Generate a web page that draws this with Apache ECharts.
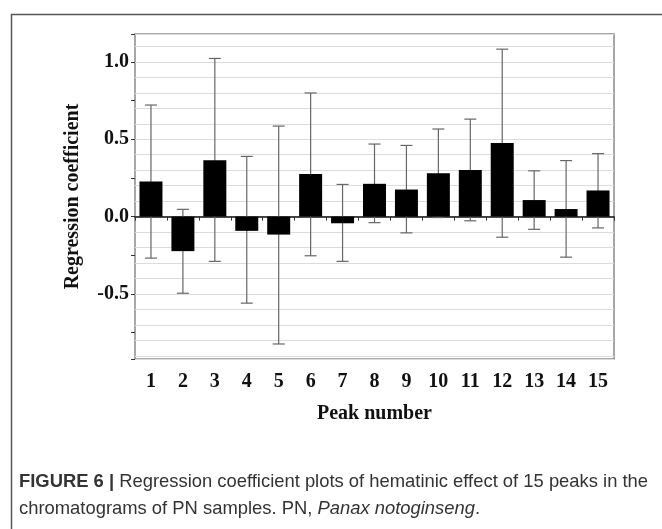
<!DOCTYPE html>
<html>
<head>
<meta charset="utf-8">
<script src="https://cdn.jsdelivr.net/npm/echarts@6/dist/echarts.min.js"></script>
<style>
  html, body { margin: 0; padding: 0; background: #fff; }
  #chart { width: 662px; height: 529px; }
</style>
</head>
<body>
<div id="chart"></div>
<script>
// peak numbers on the x axis
const peaks = ['1', '2', '3', '4', '5', '6', '7', '8', '9', '10', '11', '12', '13', '14', '15']
// regression coefficient of each peak
const coef = [0.227, -0.223, 0.364, -0.092, -0.116, 0.276, -0.043, 0.212, 0.175, 0.280, 0.302, 0.476, 0.107, 0.049, 0.169]
// error bar ends
const errLow = [-0.268, -0.495, -0.289, -0.559, -0.823, -0.253, -0.289, -0.039, -0.105, -0.006, -0.027, -0.133, -0.082, -0.262, -0.073]
const errHigh = [0.721, 0.047, 1.022, 0.389, 0.585, 0.799, 0.208, 0.469, 0.460, 0.566, 0.630, 1.082, 0.296, 0.362, 0.407]

const yMin = -0.92
const yMax = 1.18

const serif = 'Liberation Serif'
const sans = 'Liberation Sans'

const errData = peaks.map((p, i) => [i, errLow[i], errHigh[i]])

const dom = echarts.init(document.getElementById('chart'))
const option = {
  backgroundColor: '#fff',
  animation: false,
  grid: {
    left: 135,
    right: 48,
    top: 34,
    bottom: 170,
    show: true,
    borderColor: '#8a8a8a',
    borderWidth: 1.5,
    backgroundColor: 'transparent'
  },
  xAxis: [
    {
      type: 'category',
      data: peaks,
      axisLine: { onZero: true, lineStyle: { color: '#111', width: 1.5 } },
      axisTick: { show: true, length: 4, lineStyle: { color: '#333' } },
      axisLabel: { show: false },
      splitLine: { show: false }
    },
    {
      type: 'category',
      data: peaks,
      position: 'bottom',
      axisLine: { show: false, onZero: false },
      axisTick: { show: false },
      axisLabel: {
        margin: 13,
        fontFamily: serif,
        fontWeight: 'bold',
        fontSize: 20,
        color: '#111'
      },
      name: 'Peak number',
      nameLocation: 'middle',
      nameGap: 45,
      nameTextStyle: {
        fontFamily: serif,
        fontWeight: 'bold',
        fontSize: 20,
        color: '#111'
      }
    }
  ],
  yAxis: [
    {
      type: 'value',
      min: yMin,
      max: yMax,
      splitNumber: 4,
      axisLine: { show: false },
      axisTick: { show: false },
      axisLabel: {
        margin: 6,
        fontFamily: serif,
        fontWeight: 'bold',
        fontSize: 20,
        color: '#111',
        formatter: function (v) {
          const h = v * 2
          return Math.abs(h - Math.round(h)) < 1e-6 ? v.toFixed(1) : ''
        }
      },
      splitLine: { show: true, lineStyle: { color: '#dcdcdc', width: 1 } },
      minorTick: { show: false, splitNumber: 5 },
      minorSplitLine: { show: true, lineStyle: { color: '#dcdcdc', width: 1 } },
      name: 'Regression coefficient',
      nameLocation: 'middle',
      nameGap: 52,
      nameTextStyle: {
        fontFamily: serif,
        fontWeight: 'bold',
        fontSize: 20,
        color: '#111'
      }
    },
    {
      type: 'value',
      min: yMin,
      max: yMax,
      splitNumber: 4,
      position: 'left',
      axisLine: { show: false },
      axisLabel: { show: false },
      splitLine: { show: false },
      axisTick: { show: true, length: 4, lineStyle: { color: '#333' } },
      minorTick: { show: true, splitNumber: 2, length: 4, lineStyle: { color: '#333' } }
    }
  ],
  series: [
    {
      type: 'custom',
      xAxisIndex: 0,
      yAxisIndex: 0,
      z: 1,
      data: errData,
      renderItem: function (params, api) {
        const x = api.value(0)
        const lo = api.coord([x, api.value(1)])
        const hi = api.coord([x, api.value(2)])
        const cap = 6
        const style = { stroke: '#666', lineWidth: 1.2 }
        return {
          type: 'group',
          children: [
            { type: 'line', shape: { x1: hi[0], y1: hi[1], x2: lo[0], y2: lo[1] }, style: style },
            { type: 'line', shape: { x1: hi[0] - cap, y1: hi[1], x2: hi[0] + cap, y2: hi[1] }, style: style },
            { type: 'line', shape: { x1: lo[0] - cap, y1: lo[1], x2: lo[0] + cap, y2: lo[1] }, style: style }
          ]
        }
      }
    },
    {
      type: 'bar',
      xAxisIndex: 0,
      yAxisIndex: 0,
      z: 2,
      data: coef,
      barCategoryGap: '28%',
      itemStyle: { color: '#000' }
    }
  ],
  graphic: [
    {
      type: 'rect',
      left: 9,
      top: 12,
      shape: { width: 700, height: 600 },
      style: { fill: 'none', stroke: '#555', lineWidth: 1.5 },
      silent: true
    },
    {
      type: 'text',
      left: 19,
      top: 473,
      style: {
        text: '{b|FIGURE 6 |} Regression coefficient plots of hematinic effect of 15 peaks in the',
        font: '18.4px ' + sans,
        fill: '#333',
        rich: {
          b: { fontFamily: sans, fontSize: 18.4, fontWeight: 'bold', fill: '#333' }
        }
      }
    },
    {
      type: 'text',
      left: 19,
      top: 500,
      style: {
        text: 'chromatograms of PN samples. PN, {i|Panax notoginseng}.',
        font: '18.4px ' + sans,
        fill: '#333',
        rich: {
          i: { fontFamily: sans, fontSize: 18.4, fontStyle: 'italic', fill: '#333' }
        }
      }
    }
  ]
}
dom.setOption(option)
</script>
</body>
</html>
